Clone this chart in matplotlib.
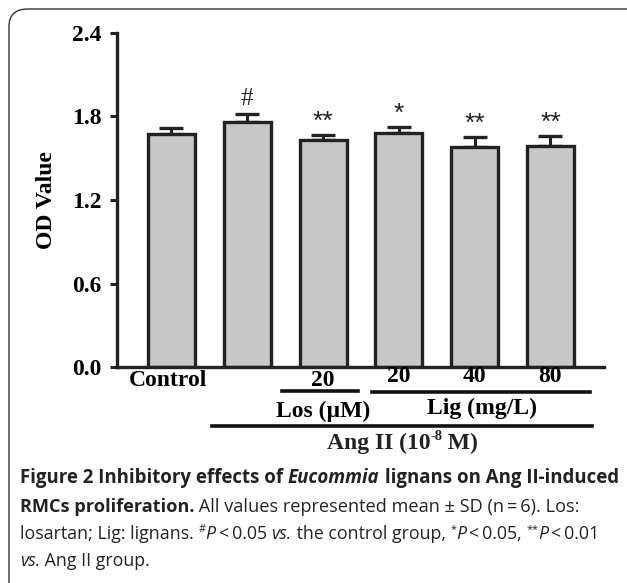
import numpy as np
import matplotlib
matplotlib.use("Agg")
import matplotlib.pyplot as plt
from matplotlib.patches import FancyBboxPatch
from matplotlib.transforms import blended_transform_factory

# data
groups = ["Control", "Ang II", "Los 20", "Lig 20", "Lig 40", "Lig 80"]
od_mean = [1.672, 1.758, 1.631, 1.679, 1.580, 1.590]
od_sd = [0.047, 0.057, 0.036, 0.047, 0.070, 0.069]
marks = ["", "#", "**", "*", "**", "**"]
yticks = [0.0, 0.6, 1.2, 1.8, 2.4]
dose_labels = ["Control", "", "20", "20", "40", "80"]

W, H = 627, 583
fig = plt.figure(figsize=(W / 100, H / 100), dpi=100)

def fy(py):
    return 1 - py / H

# outer rounded frame (runs off the right/bottom edge like the source)
frame = FancyBboxPatch((9 / W, fy(640)), 700 / W, 631 / H,
                       boxstyle="round,pad=0,rounding_size=0.03",
                       transform=fig.transFigure, fill=False,
                       edgecolor="#333333", linewidth=1.0)
fig.patches.append(frame)

ax = fig.add_axes([117 / W, fy(367), (604 - 117) / W, (367 - 33) / H])
x = np.arange(len(groups))
serif = "Liberation Serif"

ax.bar(x, od_mean, width=0.62, color="#c8c8c8", edgecolor="#222222",
       linewidth=2.4, zorder=2)
ax.errorbar(x, od_mean, yerr=[np.zeros(len(od_sd)), od_sd], fmt="none",
            ecolor="#222222", elinewidth=2.2, capsize=8.3, capthick=2.4,
            zorder=1)

for xi, m, s, t in zip(x, od_mean, od_sd, marks):
    if not t:
        continue
    if t == "#":
        ax.annotate(t, (xi, m + s), xytext=(0, 3), textcoords="offset points",
                    ha="center", va="bottom", fontsize=18, family=serif,
                    color="#222222")
    else:
        ax.annotate(t, (xi, m + s), xytext=(0, 1), textcoords="offset points",
                    ha="center", va="bottom", fontsize=19,
                    family="Liberation Sans", color="#222222")

ax.set_xlim(-0.719, 5.706)
ax.set_ylim(0, 2.4)
ax.set_yticks(yticks)
ax.set_yticklabels([f"{v:.1f}" for v in yticks], fontsize=17,
                   fontweight="bold", family=serif)
ax.set_xticks([])
ax.tick_params(axis="y", length=5, width=2.2, color="#222222", pad=6)
for side in ["top", "right"]:
    ax.spines[side].set_visible(False)
for side in ["left", "bottom"]:
    ax.spines[side].set_linewidth(2.4)
    ax.spines[side].set_color("#222222")
ax.set_ylabel("OD Value", fontsize=17, fontweight="bold", family=serif,
              labelpad=11)

# group labels under the axis
tr = blended_transform_factory(ax.transData, fig.transFigure)
lab_kw = dict(transform=tr, ha="center", va="center", fontsize=17,
              fontweight="bold", family=serif)
for xi, lab in zip(x, dose_labels):
    if lab:
        yy = 380 if xi < 3 else 377
        ax.text(xi - (0.05 if xi == 0 else 0), fy(yy), lab, **lab_kw)

ax.plot([1.46, 2.46], [fy(391)] * 2, transform=tr, color="#111111",
        linewidth=2.6, clip_on=False)
ax.plot([2.645, 5.52], [fy(392)] * 2, transform=tr, color="#111111",
        linewidth=2.6, clip_on=False)
ax.plot([0.534, 5.55], [fy(426)] * 2, transform=tr, color="#111111",
        linewidth=2.6, clip_on=False)
ax.text(2.0, fy(411), "Los (\u00b5M)", **lab_kw)
ax.text(4.1, fy(408), "Lig (mg/L)", **lab_kw)

fig.canvas.draw()
renderer = fig.canvas.get_renderer()

def pieces(segments, xc, ypx, family, size, center=False):
    """draw text segments side by side; style flags b/i/s"""
    made = []
    for txt, style in segments:
        kw = dict(fontsize=size, family=family, va="baseline", ha="left",
                  color="#222222")
        y = fy(ypx)
        if "b" in style:
            kw["fontweight"] = "bold"
        if "i" in style:
            kw["fontstyle"] = "italic"
        if "s" in style:
            kw["fontsize"] = size * 0.62
            y = fy(ypx - size * 0.55)
        made.append(fig.text(0, y, txt, **kw))
    widths = [t.get_window_extent(renderer).width for t in made]
    xp = xc - sum(widths) / 2 if center else xc
    for t, w in zip(made, widths):
        t.set_x(xp / W)
        xp += w

# Ang II label with superscript exponent
xang = ax.transData.transform((3.05, 0))[0]
pieces([("Ang II (10", "b"), ("-8", "bs"), ("\u2009M)", "b")],
       xang, 449, serif, 17, center=True)

# caption
cap = "Open Sans"
pieces([("Figure 2 Inhibitory effects of ", "b"), ("Eucommia", "bi"),
        (" lignans on Ang II-induced", "b")], 20, 483, cap, 13.4)
pieces([("RMCs proliferation.", "b"),
        (" All values represented mean \u00b1 SD (n\u2009=\u20096). Los:", "")],
       20, 512, cap, 13.1)
pieces([("losartan; Lig: lignans. ", ""), ("#", "s"), ("P", "i"),
        ("\u2009<\u20090.05 ", ""), ("vs.", "i"), (" the control group, ", ""),
        ("*", "s"), ("P", "i"), ("\u2009<\u20090.05, ", ""), ("**", "s"),
        ("P", "i"), ("\u2009<\u20090.01", "")], 20, 539, cap, 12.8)
pieces([("vs.", "i"), (" Ang II group.", "")], 20, 566, cap, 12.8)

fig.savefig("out.png", dpi=100)
